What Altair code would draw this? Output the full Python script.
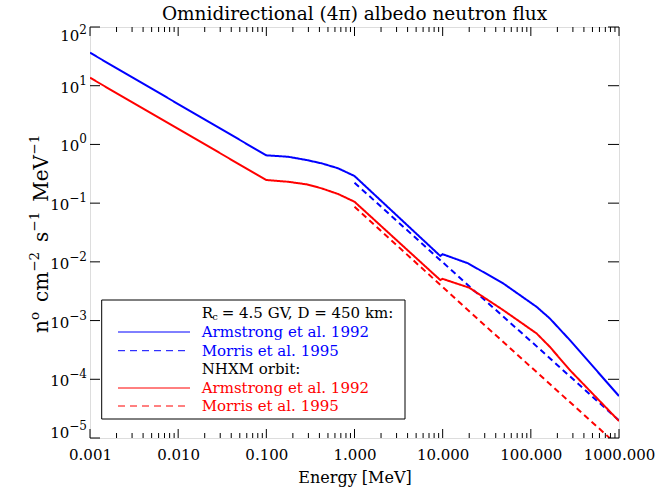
import altair as alt
import pandas as pd

# ---------------- data ----------------
# energies in MeV, log10 of flux (n cm^-2 s^-1 MeV^-1)
arm45_E = [0.001, 0.1, 0.177, 0.286, 0.424, 0.653, 1.0, 9.4, 10.0, 19.5, 26.4, 48.5, 116, 164, 277, 977, 1000]
arm45_logF = [1.562, -0.186, -0.210, -0.266, -0.322, -0.407, -0.538, -1.90, -1.870, -2.026, -2.14, -2.366, -2.765, -2.963, -3.332, -4.269, -4.286]

mor45_E = [1.0, 20.3, 100, 896, 1000]
mor45_logF = [-0.652, -2.424, -3.35, -4.639, -4.70]

armNH_E = [0.001, 0.1, 0.177, 0.286, 0.424, 0.653, 1.0, 9.4, 10.0, 20.0, 48.5, 116, 164, 277, 977, 1000]
armNH_logF = [1.136, -0.606, -0.636, -0.680, -0.748, -0.845, -0.976, -2.31, -2.290, -2.44, -2.821, -3.218, -3.446, -3.843, -4.695, -4.71]

morNH_E = [1.0, 20.3, 721, 1000]
morNH_logF = [-1.061, -2.850, -4.951, -5.15]

series_names = ["arm45", "mor45", "armNH", "morNH"]
series_colors = ["#0000ff", "#0000ff", "#ff0000", "#ff0000"]
series_dash = [[1, 0], [6, 4], [1, 0], [6, 4]]

x_major = [0.001, 0.01, 0.1, 1, 10, 100, 1000]
x_minor = [k * d for d in [0.001, 0.01, 0.1, 1, 10, 100] for k in range(2, 10)]
y_major = [1e-5, 1e-4, 1e-3, 1e-2, 1e-1, 1e0, 1e1, 1e2]
y_tick_exp = ["−5", "−4", "−3", "−2", "−1", "0", "1", "2"]

legend_header1 = ["R", "c", "= 4.5 GV, D = 450 km:"]
legend_entries = [
    ("Armstrong et al. 1992", "#0000ff", [1, 0]),
    ("Morris et al. 1995", "#0000ff", [7, 5]),
    ("NHXM orbit:", "black", None),
    ("Armstrong et al. 1992", "#ff0000", [1, 0]),
    ("Morris et al. 1995", "#ff0000", [7, 5]),
]

title_text = "Omnidirectional (4π) albedo neutron flux"
x_title = "Energy [MeV]"
# y title pieces: (text, is_superscript)
y_title_parts = [("n", False), ("o", True), ("cm", False), ("−2", True),
                 ("s", False), ("−1", True), ("MeV", False), ("−1", True)]

# ---------------- build table ----------------
rows = []
for name, E, lf in [("arm45", arm45_E, arm45_logF), ("mor45", mor45_E, mor45_logF),
                    ("armNH", armNH_E, armNH_logF), ("morNH", morNH_E, morNH_logF)]:
    for i, (e, v) in enumerate(zip(E, lf)):
        rows.append({"series": name, "E": e, "F": 10 ** v, "i": i})
df = pd.DataFrame(rows)

W, H = 529, 411
FONT = "DejaVu Serif"
# approximate DejaVu Serif advance widths (em)
CW = {"n": .644, "o": .602, "c": .560, "m": .948, "s": .513, "M": .995, "e": .592,
      "V": .770, "−": .838, "1": .636, "2": .636, "0": .636, "3": .636, "4": .636, "5": .636}

def tw(s, size):
    return sum(CW.get(ch, .6) for ch in s) * size

xscale = alt.Scale(type="log", domain=[0.001, 1000], nice=False)
yscale = alt.Scale(type="log", domain=[1e-5, 100], nice=False)

lines = alt.Chart(df).mark_line(clip=True, strokeWidth=2).encode(
    x=alt.X("E:Q", scale=xscale,
            axis=alt.Axis(values=x_major, format=".3f", title=x_title, ticks=False, tickSize=0,
                          domain=False, grid=False, labelFont=FONT, labelFontSize=15,
                          labelColor="black", labelPadding=9, labelFlush=False,
                          titleFont=FONT, titleFontSize=16, titleFontWeight="normal",
                          titleColor="black", titlePadding=7)),
    y=alt.Y("F:Q", scale=yscale, axis=None),
    color=alt.Color("series:N", scale=alt.Scale(domain=series_names, range=series_colors), legend=None),
    strokeDash=alt.StrokeDash("series:N", scale=alt.Scale(domain=series_names, range=series_dash), legend=None),
    order="i:Q",
)

xmaj_df = pd.DataFrame({"E": x_major})
xmin_df = pd.DataFrame({"E": x_minor})
ymaj_df = pd.DataFrame({"F": y_major})

def xticks(d, y0, y1):
    return alt.Chart(d).mark_rule(color="black", strokeWidth=1).encode(
        x=alt.X("E:Q", scale=xscale), y=alt.value(y0), y2=alt.value(y1))

def yticks(x0, x1):
    return alt.Chart(ymaj_df).mark_rule(color="black", strokeWidth=1).encode(
        y=alt.Y("F:Q", scale=yscale), x=alt.value(x0), x2=alt.value(x1))

ticks = [
    xticks(xmaj_df, H, H - 9), xticks(xmin_df, H, H - 5),
    xticks(xmaj_df, 0, 9), xticks(xmin_df, 0, 5),
    yticks(0, 10), yticks(W, W - 11),
]

# ---------------- y tick labels: "10" with superscript exponent ----------------
ylab_layers = []
LAB_RIGHT = -3
EXP_SIZE = 12
for k, (v, ex) in enumerate(zip(y_major, y_tick_exp)):
    ew = tw(ex, EXP_SIZE)
    if k == len(y_major) - 1:
        dyb, dye = 8.5, 2.5
    elif k == 0:
        dyb, dye = -5.5, -12
    else:
        dyb, dye = 2, -5
    d = pd.DataFrame({"F": [v]})
    ylab_layers.append(alt.Chart(d).mark_text(text="10", font=FONT, fontSize=15, align="right",
                                              baseline="middle", dy=dyb, color="black").encode(
        y=alt.Y("F:Q", scale=yscale), x=alt.value(LAB_RIGHT - ew)))
    ylab_layers.append(alt.Chart(d).mark_text(text=ex, font=FONT, fontSize=EXP_SIZE, align="left",
                                              baseline="middle", dy=dye, color="black").encode(
        y=alt.Y("F:Q", scale=yscale), x=alt.value(LAB_RIGHT - ew)))

# ---------------- y title (rotated, with superscripts) ----------------
one = alt.Chart(pd.DataFrame({"a": [0]}))
yt_layers = []
BASE_SIZE, SUP_SIZE = 20, 13.5
pos = 306.0          # bottom end of the title, plot coordinates
gap_after_sup = 10
for txt, sup in y_title_parts:
    size = SUP_SIZE if sup else BASE_SIZE
    yt_layers.append(one.mark_text(text=txt, font=FONT, fontSize=size, angle=270, align="left",
                                   baseline="alphabetic", color="black").encode(
        x=alt.value(-51 if sup else -42), y=alt.value(pos)))
    pos -= tw(txt, size) + (gap_after_sup if sup else 0)

# ---------------- legend box ----------------
LX0, LX1, LY0, LY1 = 11.7, 315, 273, 392
box = one.mark_rect(fill="white", stroke="black", strokeWidth=1).encode(
    x=alt.value(LX0), x2=alt.value(LX1), y=alt.value(LY0), y2=alt.value(LY1))

leg_layers = [box]
TX = 111.7
row_y = [286.3, 305, 323.7, 342, 361, 379]
leg_layers.append(one.mark_text(text=legend_header1[0], font=FONT, fontSize=15, align="left",
                                baseline="middle", color="black").encode(x=alt.value(TX), y=alt.value(row_y[0])))
leg_layers.append(one.mark_text(text=legend_header1[1], font=FONT, fontSize=10, align="left",
                                baseline="middle", color="black").encode(x=alt.value(TX + 10.5), y=alt.value(row_y[0] + 4)))
leg_layers.append(one.mark_text(text=legend_header1[2], font=FONT, fontSize=15, align="left",
                                baseline="middle", color="black").encode(x=alt.value(TX + 20), y=alt.value(row_y[0])))
for (txt, col, dash), yy in zip(legend_entries, row_y[1:]):
    if dash is not None:
        leg_layers.append(one.mark_rule(color=col, strokeWidth=1, strokeDash=dash).encode(
            x=alt.value(28), x2=alt.value(100), y=alt.value(yy)))
    leg_layers.append(one.mark_text(text=txt, font=FONT, fontSize=15, align="left",
                                    baseline="middle", color=col).encode(x=alt.value(TX), y=alt.value(yy)))

chart = alt.layer(lines, *ticks, *ylab_layers, *yt_layers, *leg_layers).properties(
    width=W, height=H,
    title=alt.TitleParams(title_text, font=FONT, fontSize=18.5, fontWeight="normal", color="black",
                          offset=0, frame="group"),
    padding={"left": 90, "top": 27, "right": 41, "bottom": 53},
    autosize=alt.AutoSizeParams(type="none"),
).configure_view(stroke="black", strokeWidth=1).configure(background="white")

chart.save("out.html", embed_options={"renderer": "svg", "actions": False})
